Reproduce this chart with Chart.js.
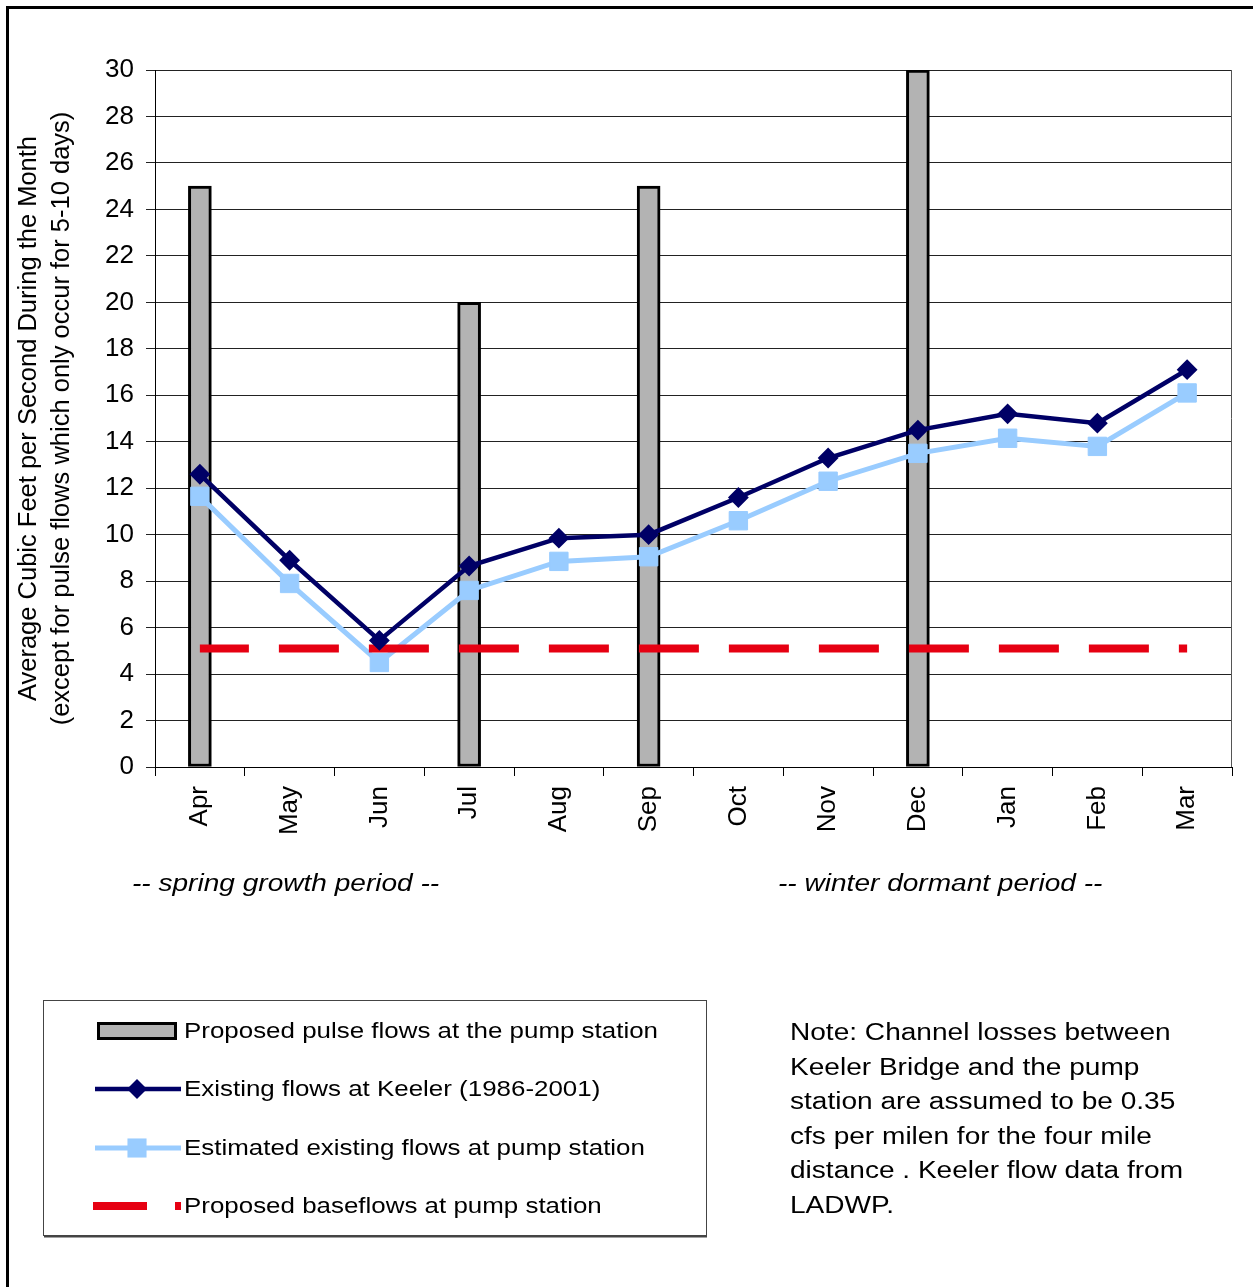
<!DOCTYPE html>
<html>
<head>
<meta charset="utf-8">
<script src="https://cdn.jsdelivr.net/npm/chart.js@4/dist/chart.umd.min.js"></script>
<style>
  html, body { margin: 0; padding: 0; background: #fff; overflow: hidden; }
  #page { position: relative; width: 1253px; height: 1287px; overflow: hidden; background: #fff;
          font-family: 'Liberation Sans', Arial, sans-serif; color: #000; }
  #frame { position: absolute; left: 6px; top: 6px; width: 1400px; height: 1400px;
           border-left: 3px solid #000; border-top: 3px solid #000; }
  #chart { position: absolute; left: 0; top: 0; }
  .txt { position: absolute; white-space: nowrap; transform-origin: 0 50%; }
  .period { font-size: 23px; font-style: italic; line-height: 30px; transform: scaleX(1.22); }
  .leg { font-size: 22px; line-height: 30px; left: 184px; transform: scaleX(1.178); }
  #note { left: 790px; top: 1015px; font-size: 23px; line-height: 34.5px; transform: scaleX(1.22); transform-origin: 0 0; }
</style>
</head>
<body>
<div id="page">
  <div id="frame"></div>
  <canvas id="chart" width="1253" height="1287"></canvas>

  <div class="txt period" style="left:132px; top:868px;">-- spring growth period --</div>
  <div class="txt period" style="left:778px; top:868px;">-- winter dormant period --</div>

  <div class="txt leg" style="top:1016px;">Proposed pulse flows at the pump station</div>
  <div class="txt leg" style="top:1074px;">Existing flows at Keeler (1986-2001)</div>
  <div class="txt leg" style="top:1133px;">Estimated existing flows at pump station</div>
  <div class="txt leg" style="top:1191px;">Proposed baseflows at pump station</div>

  <div class="txt" id="note">Note: Channel losses between<br>Keeler Bridge and the pump<br>station are assumed to be 0.35<br>cfs per milen for the four mile<br>distance . Keeler flow data from<br>LADWP.</div>
</div>

<script>
// Months of the water year, April through March
const months = ['Apr', 'May', 'Jun', 'Jul', 'Aug', 'Sep', 'Oct', 'Nov', 'Dec', 'Jan', 'Feb', 'Mar'];

// Proposed pulse flows at the pump station (cfs), only in pulse months
const pulseFlows = [25, null, null, 20, null, 25, null, null, 30, null, null, null];

// Existing flows at Keeler, 1986-2001 average (cfs)
const keelerFlows = [12.6, 8.9, 5.45, 8.65, 9.85, 10.0, 11.6, 13.3, 14.5, 15.2, 14.8, 17.1];

// Estimated existing flows at the pump station (cfs)
const pumpFlows = [11.65, 7.9, 4.5, 7.6, 8.85, 9.05, 10.6, 12.3, 13.5, 14.15, 13.8, 16.1];

// Proposed baseflows at the pump station (cfs)
const baseFlows = [5.1, 5.1, 5.1, 5.1, 5.1, 5.1, 5.1, 5.1, 5.1, 5.1, 5.1, 5.1];

// Y axis range and tick step
const yMin = 0, yMax = 30, yStep = 2;

const seriesNames = [
  'Proposed pulse flows at the pump station',
  'Existing flows at Keeler (1986-2001)',
  'Estimated existing flows at pump station',
  'Proposed baseflows at pump station'
];

const yTitle = [
  'Average Cubic Feet per Second During the Month',
  '(except for pulse flows which only occur for 5-10 days)'
];

const FONT = "'Liberation Sans', Arial, sans-serif";

// Right-hand edge of the plot frame
const frameEdge = {
  id: 'frameEdge',
  beforeDatasetsDraw(chart) {
    const { ctx, chartArea: a } = chart;
    ctx.save();
    ctx.strokeStyle = '#555';
    ctx.lineWidth = 1;
    ctx.beginPath();
    ctx.moveTo(Math.round(a.right) - 0.5, a.top);
    ctx.lineTo(Math.round(a.right) - 0.5, a.bottom);
    ctx.stroke();
    ctx.restore();
  }
};

function drawMarker(ctx, style, r, x, y, color) {
  ctx.fillStyle = color;
  ctx.beginPath();
  if (style === 'rectRot') {
    ctx.moveTo(x, y - r); ctx.lineTo(x + r, y); ctx.lineTo(x, y + r); ctx.lineTo(x - r, y);
  } else {
    const h = r * Math.SQRT1_2;
    ctx.rect(x - h, y - h, 2 * h, 2 * h);
  }
  ctx.closePath();
  ctx.fill();
}

// Boxed legend below the plot, swatches styled from the datasets
const boxLegend = {
  id: 'boxLegend',
  afterDraw(chart) {
    const ctx = chart.ctx;
    const ds = chart.data.datasets;
    ctx.save();
    ctx.strokeStyle = '#444';
    ctx.lineWidth = 1;
    ctx.strokeRect(43.5, 1000.5, 663, 235);
    ctx.fillStyle = '#444';
    ctx.fillRect(44, 1236, 663, 1.5);

    const rows = [1031, 1089, 1148, 1206];
    const bar = ds.find(d => d.type === 'bar');
    // bar swatch
    ctx.fillStyle = bar.backgroundColor;
    ctx.fillRect(97, 1022, 80, 18);
    ctx.strokeStyle = bar.borderColor;
    ctx.lineWidth = 3;
    ctx.strokeRect(98.5, 1023.5, 77, 15);

    const lineRows = [
      { d: ds.find(d => d.label === seriesNames[1]), y: rows[1] },
      { d: ds.find(d => d.label === seriesNames[2]), y: rows[2] }
    ];
    lineRows.forEach(({ d, y }) => {
      ctx.strokeStyle = d.borderColor;
      ctx.lineWidth = d.borderWidth;
      ctx.setLineDash([]);
      ctx.beginPath();
      ctx.moveTo(95, y); ctx.lineTo(181, y);
      ctx.stroke();
      drawMarker(ctx, d.pointStyle, d.pointRadius + d.pointBorderWidth / 2, 137, y, d.pointBackgroundColor);
    });

    const base = ds.find(d => d.label === seriesNames[3]);
    ctx.strokeStyle = base.borderColor;
    ctx.lineWidth = base.borderWidth;
    ctx.lineCap = 'butt';
    ctx.setLineDash([54, 28]);
    ctx.beginPath();
    ctx.moveTo(93, rows[3]); ctx.lineTo(181, rows[3]);
    ctx.stroke();
    ctx.restore();
  }
};

new Chart(document.getElementById('chart'), {
  data: {
    labels: months,
    datasets: [
      {
        type: 'bar',
        label: seriesNames[0],
        data: pulseFlows,
        backgroundColor: '#b3b3b3',
        borderColor: '#000',
        borderWidth: 3,
        borderSkipped: false,
        barThickness: 23,
        order: 4
      },
      {
        type: 'line',
        label: seriesNames[1],
        data: keelerFlows,
        borderColor: '#000066',
        backgroundColor: '#000066',
        borderWidth: 4.5,
        pointStyle: 'rectRot',
        pointRadius: 9,
        pointBorderWidth: 2,
        pointBackgroundColor: '#000066',
        pointBorderColor: '#000066',
        tension: 0,
        order: 1
      },
      {
        type: 'line',
        label: seriesNames[2],
        data: pumpFlows,
        borderColor: '#99ccff',
        backgroundColor: '#99ccff',
        borderWidth: 5,
        pointStyle: 'rect',
        pointRadius: 13,
        pointBorderWidth: 1,
        pointBackgroundColor: '#99ccff',
        pointBorderColor: '#99ccff',
        tension: 0,
        order: 3
      },
      {
        type: 'line',
        label: seriesNames[3],
        data: baseFlows,
        borderColor: '#e60012',
        borderWidth: 8,
        borderDash: [60, 30],
        borderDashOffset: 11,
        borderCapStyle: 'butt',
        pointRadius: 0,
        tension: 0,
        order: 2
      }
    ]
  },
  options: {
    responsive: false,
    animation: false,
    events: [],
    layout: { padding: { left: 0, top: 70, right: 21, bottom: 0 } },
    plugins: {
      legend: { display: false },
      tooltip: { enabled: false }
    },
    scales: {
      x: {
        type: 'category',
        offset: true,
        afterFit(scale) { scale.height = 520; },
        grid: {
          offset: true,
          drawOnChartArea: false,
          drawTicks: true,
          tickLength: 9,
          color: '#000',
          lineWidth: 1
        },
        border: { display: true, color: '#000', width: 1 },
        ticks: {
          autoSkip: false,
          maxRotation: 90,
          minRotation: 90,
          padding: 10,
          color: '#000',
          font: { family: FONT, size: 26 }
        }
      },
      y: {
        min: yMin,
        max: yMax,
        afterFit(scale) { scale.width = 155; },
        grid: {
          color: '#222',
          lineWidth: 1,
          drawTicks: true,
          tickLength: 9
        },
        border: { display: true, color: '#000', width: 1 },
        ticks: {
          stepSize: yStep,
          padding: 12,
          color: '#000',
          font: { family: FONT, size: 26 }
        },
        title: {
          display: true,
          text: yTitle,
          color: '#000',
          font: { family: FONT, size: 25.5, lineHeight: 1.29 },
          padding: { top: 13, bottom: 0 }
        }
      }
    }
  },
  plugins: [frameEdge, boxLegend]
});
</script>
</body>
</html>
